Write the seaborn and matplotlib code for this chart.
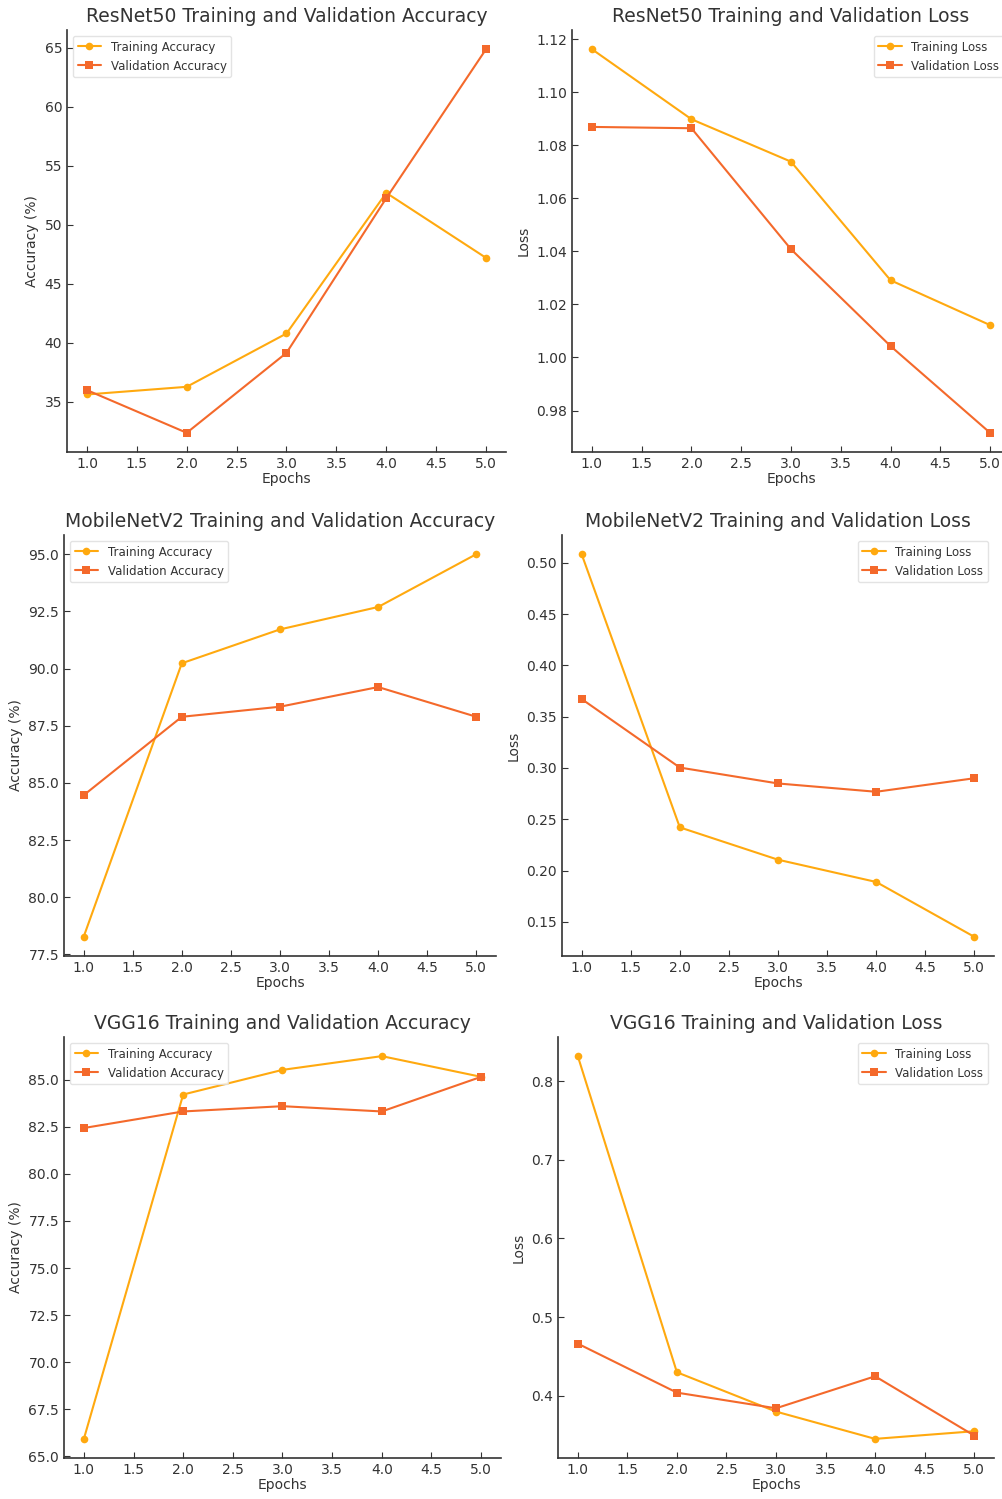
import matplotlib
matplotlib.use('Agg')
import matplotlib.pyplot as plt
import seaborn as sns
import pandas as pd

# epochs shared by every panel
epochs = [1, 2, 3, 4, 5]

# ResNet50
resnet_train_acc = [35.62, 36.27, 40.79, 52.71, 47.20]
resnet_val_acc = [35.99, 32.37, 39.15, 52.26, 64.89]
resnet_train_loss = [1.1162, 1.0898, 1.0738, 1.0291, 1.0122]
resnet_val_loss = [1.0869, 1.0864, 1.0408, 1.0043, 0.9716]

# MobileNetV2
mobile_train_acc = [78.27, 90.23, 91.71, 92.69, 95.00]
mobile_val_acc = [84.46, 87.89, 88.33, 89.19, 87.89]
mobile_train_loss = [0.5084, 0.2421, 0.2106, 0.1889, 0.1354]
mobile_val_loss = [0.3672, 0.3004, 0.2849, 0.2768, 0.2900]

# VGG16
vgg_train_acc = [65.92, 84.22, 85.53, 86.26, 85.16]
vgg_val_acc = [82.44, 83.32, 83.60, 83.32, 85.16]
vgg_train_loss = [0.8318, 0.4297, 0.3797, 0.3450, 0.3547]
vgg_val_loss = [0.4661, 0.4038, 0.3839, 0.4246, 0.3492]

train_color = '#FFA90F'
val_color = '#F4692B'
text_color = '#333333'

sns.set_style('white')
plt.rcParams['font.family'] = ['DejaVu Sans']
plt.rcParams['text.color'] = text_color
plt.rcParams['axes.labelcolor'] = text_color
plt.rcParams['xtick.color'] = text_color
plt.rcParams['ytick.color'] = text_color
plt.rcParams['axes.edgecolor'] = '#333333'

W, H = 1003, 1499
fig = plt.figure(figsize=(W / 100, H / 100), dpi=100)


def box(left, right, top, bottom):
    return [left / W, 1 - bottom / H, (right - left) / W, (bottom - top) / H]


panels = [
    ('ResNet50 Training and Validation Accuracy', 'Accuracy (%)', 'Accuracy',
     resnet_train_acc, resnet_val_acc, 'upper left', box(67, 506, 30, 452)),
    ('ResNet50 Training and Validation Loss', 'Loss', 'Loss',
     resnet_train_loss, resnet_val_loss, 'upper right', box(572, 1010, 30, 452)),
    ('MobileNetV2 Training and Validation Accuracy', 'Accuracy (%)', 'Accuracy',
     mobile_train_acc, mobile_val_acc, 'upper left', box(64, 496, 535, 956)),
    ('MobileNetV2 Training and Validation Loss', 'Loss', 'Loss',
     mobile_train_loss, mobile_val_loss, 'upper right', box(562, 994, 535, 956)),
    ('VGG16 Training and Validation Accuracy', 'Accuracy (%)', 'Accuracy',
     vgg_train_acc, vgg_val_acc, 'upper left', box(64, 501, 1037, 1458)),
    ('VGG16 Training and Validation Loss', 'Loss', 'Loss',
     vgg_train_loss, vgg_val_loss, 'upper right', box(558, 994, 1037, 1458)),
]

for title, ylabel, metric, train, val, loc, pos in panels:
    ax = fig.add_axes(pos)
    df = pd.DataFrame({'Epoch': epochs, 'train': train, 'val': val})
    sns.lineplot(data=df, x='Epoch', y='train', ax=ax, color=train_color,
                 marker='o', markersize=5.5, markeredgewidth=0, linewidth=1.5,
                 label='Training ' + metric)
    sns.lineplot(data=df, x='Epoch', y='val', ax=ax, color=val_color,
                 marker='s', markersize=5.5, markeredgewidth=0, linewidth=1.5,
                 label='Validation ' + metric)
    ax.set_title(title, fontsize=13.5, color=text_color)
    ax.set_xlabel('Epochs', fontsize=10, labelpad=1)
    ax.set_ylabel(ylabel, fontsize=10)
    ax.set_xticks([1.0, 1.5, 2.0, 2.5, 3.0, 3.5, 4.0, 4.5, 5.0])
    ax.set_xticklabels(['1.0', '1.5', '2.0', '2.5', '3.0', '3.5', '4.0', '4.5', '5.0'])
    ax.tick_params(axis='both', direction='in', length=4, width=0.8,
                   labelsize=10, bottom=True, left=True)
    sns.despine(ax=ax)
    for s in ['left', 'bottom']:
        ax.spines[s].set_linewidth(1.2)
    leg = ax.legend(loc=loc, fontsize=8.5, frameon=True, fancybox=True)
    leg.get_frame().set_edgecolor('#dddddd')

fig.savefig('out.png', dpi=100)
